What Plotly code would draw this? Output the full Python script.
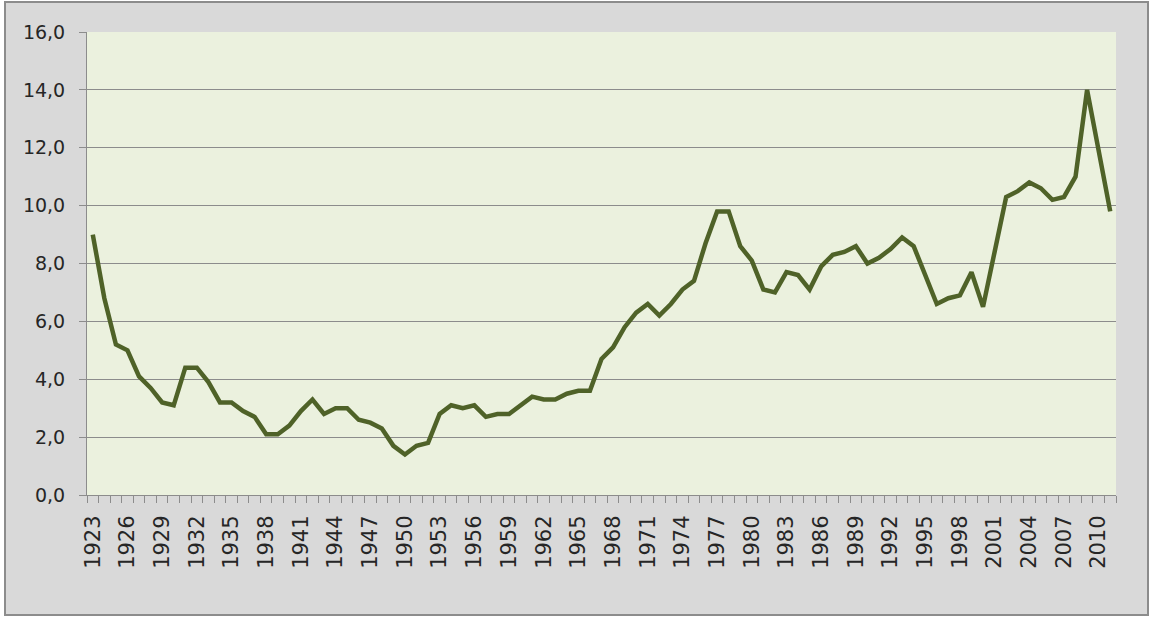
import plotly.graph_objects as go

years = list(range(1923, 2012))
values = [
    9.0, 6.8, 5.2, 5.0, 4.1, 3.7, 3.2, 3.1, 4.4, 4.4,
    3.9, 3.2, 3.2, 2.9, 2.7, 2.1, 2.1, 2.4, 2.9, 3.3,
    2.8, 3.0, 3.0, 2.6, 2.5, 2.3, 1.7, 1.4, 1.7, 1.8,
    2.8, 3.1, 3.0, 3.1, 2.7, 2.8, 2.8, 3.1, 3.4, 3.3,
    3.3, 3.5, 3.6, 3.6, 4.7, 5.1, 5.8, 6.3, 6.6, 6.2,
    6.6, 7.1, 7.4, 8.7, 9.8, 9.8, 8.6, 8.1, 7.1, 7.0,
    7.7, 7.6, 7.1, 7.9, 8.3, 8.4, 8.6, 8.0, 8.2, 8.5,
    8.9, 8.6, 7.6, 6.6, 6.8, 6.9, 7.7, 6.5, 8.4, 10.3,
    10.5, 10.8, 10.6, 10.2, 10.3, 11.0, 14.0, 11.9, 9.8,
]
label_years = years[::3]
y_ticks = [0, 2, 4, 6, 8, 10, 12, 14, 16]

fig = go.Figure(go.Scatter(
    x=years, y=values,
    mode="lines",
    line=dict(color="#4F6228", width=4.5),
    hoverinfo="x+y",
))

# margins put the plot area where the reference has it
L, R, T, B = 87, 34, 32, 124
W, H = 1150, 619
pw, ph = W - L - R, H - T - B

# grey chart frame, then the green plot area on top of it
fig.add_shape(
    type="rect", xref="paper", yref="paper", layer="below",
    x0=(5 - L) / pw, x1=(1148 - L) / pw,
    y0=(H - B - 615) / ph, y1=(H - B - 2) / ph,
    fillcolor="#D9D9D9", line=dict(color="#8C8C8C", width=2),
)
fig.add_shape(
    type="rect", xref="paper", yref="paper", layer="below",
    x0=0, x1=1, y0=0, y1=1,
    fillcolor="#EBF1DE", line=dict(width=0),
)

fig.update_layout(
    width=W, height=H,
    margin=dict(l=L, r=R, t=T, b=B),
    paper_bgcolor="white",
    plot_bgcolor="rgba(0,0,0,0)",
    separators=", ",
    showlegend=False,
    font=dict(family="DejaVu Sans", size=19, color="#262626"),
)
fig.update_xaxes(
    range=[years[0] - 0.5, years[-1] + 0.5],
    tickmode="array",
    tickvals=label_years,
    ticktext=[str(y) for y in label_years],
    tickangle=-90,
    tickfont=dict(size=21),
    ticks="outside", ticklen=7, tickcolor="rgba(0,0,0,0)",
    ticklabelstandoff=4,
    minor=dict(ticks="outside", ticklen=7, tickcolor="#8C8C8C",
               tickmode="linear", tick0=years[0] - 0.5, dtick=1),
    showgrid=False,
    showline=True, linecolor="#8C8C8C", linewidth=1,
    zeroline=False,
)
fig.update_yaxes(
    range=[0, 16],
    tickmode="array", tickvals=y_ticks,
    tickformat=".1f",
    ticks="outside", ticklen=7, tickcolor="#8C8C8C",
    ticklabelstandoff=10,
    showgrid=True, gridcolor="#8C8C8C", gridwidth=1,
    showline=True, linecolor="#8C8C8C", linewidth=1,
    zeroline=False,
)

fig.write_html(
    "out.html",
    config={"displayModeBar": False},
    post_script="document.body.style.margin='0';",
)
